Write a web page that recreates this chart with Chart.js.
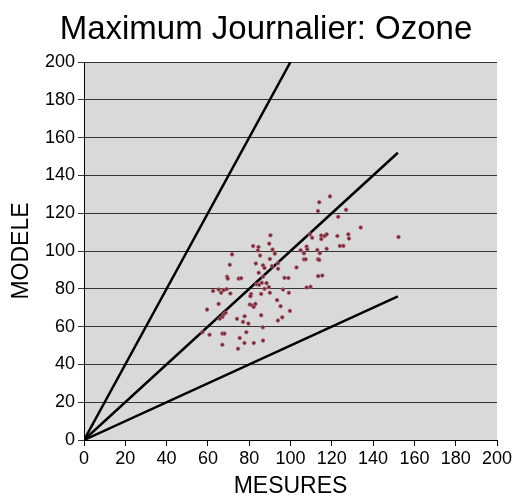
<!DOCTYPE html>
<html>
<head>
<meta charset="utf-8">
<script src="https://cdn.jsdelivr.net/npm/chart.js@4"></script>
<style>
html,body{margin:0;padding:0;background:#fff;}
#wrap{width:516px;height:500px;}
</style>
</head>
<body>
<div id="wrap"><canvas id="c" width="516" height="500"></canvas></div>
<script>
// Measured (MESURES) values
const mesures = [119.1,113.9,113.3,126.9,123.1,134.0,152.3,90.3,89.7,81.9,84.5,91.3,84.2,71.7,92.4,85.3,90.0,70.6,83.2,86.7,87.4,91.0,94.0,93.9,84.6,69.3,69.6,74.9,76.1,86.7,97.1,99.0,102.9,109.4,107.8,104.9,108.1,106.5,113.0,114.2,117.5,114.9,116.5,117.5,114.9,110.5,122.7,128.0,128.3,123.9,125.6,106.5,107.3,113.3,113.9,113.4,115.4,107.8,109.7,62.5,65.2,66.4,67.6,69.0,70.9,65.2,59.6,67.6,68.6,65.7,67.0,80.9,80.6,85.8,87.4,90.0,83.5,84.8,86.1,88.4,89.5,96.4,99.2,80.3,81.6,83.0,82.2,93.5,95.2,99.7,85.8,77.8,74.1,77.0,79.6,96.0,93.9,86.6,78.6,75.4,67.0,68.0,60.8,57.3,77.7,82.2,86.7,67.0,74.6];
// Model (MODELE) values
const modele = [128.9,125.8,121.2,121.8,118.1,112.4,107.4,108.3,103.9,102.6,102.1,100.8,100.3,98.2,98.6,97.6,95.8,92.7,93.4,92.4,91.0,92.0,90.6,93.5,88.5,86.4,85.4,85.4,85.6,86.4,85.8,85.7,91.3,108.8,102.3,100.4,100.9,98.8,100.5,98.8,101.2,108.2,107.9,108.8,106.3,107.0,107.9,108.8,106.6,102.7,102.7,95.6,95.6,95.6,95.3,86.7,87.0,80.7,81.1,78.8,79.6,77.9,79.3,79.8,77.5,72.0,69.0,66.4,67.3,64.2,65.1,77.2,76.1,77.3,80.0,77.9,82.4,82.1,83.2,83.0,80.9,79.6,77.9,71.7,71.1,72.0,70.4,74.0,70.8,68.3,66.0,65.5,64.1,62.5,61.6,64.9,63.2,59.6,57.0,54.0,56.3,56.3,55.7,57.0,51.3,51.3,52.6,50.4,48.3];
// Reference lines: slope 2, 1, 0.5
const line2End = [100, 200];
const line1End = [152, 152];
const lineHalfEnd = [152, 76];
const xTicks = [0,20,40,60,80,100,120,140,160,180,200];
const yTicks = [0,20,40,60,80,100,120,140,160,180,200];
const titleText = 'Maximum Journalier: Ozone';

const points = mesures.map((m, i) => ({x: m, y: modele[i]}));
const FONT = "'Liberation Sans', Arial, sans-serif";

const bgPlugin = {
  id: 'plotBg',
  beforeDraw(chart) {
    const {ctx, chartArea: a} = chart;
    ctx.save();
    ctx.fillStyle = '#d9d9d9';
    ctx.fillRect(a.left, a.top, a.right - a.left, a.bottom - a.top);
    ctx.restore();
  },
  afterDraw(chart) {
    const ctx = chart.ctx;
    ctx.save();
    ctx.fillStyle = '#000';
    ctx.font = "33px " + FONT;
    ctx.textAlign = 'center';
    ctx.textBaseline = 'alphabetic';
    ctx.fillText(titleText, 266, 39);
    ctx.restore();
  }
};

const lineDs = (end) => ({
  type: 'line',
  data: [{x: 0, y: 0}, {x: end[0], y: end[1]}],
  borderColor: '#000',
  borderWidth: 2.5,
  pointRadius: 0,
  fill: false,
  order: 1
});

new Chart(document.getElementById('c'), {
  type: 'scatter',
  data: {
    datasets: [
      lineDs(line2End),
      lineDs(line1End),
      lineDs(lineHalfEnd),
      {
        data: points,
        backgroundColor: '#6a2633',
        borderColor: 'rgba(180,100,115,0.85)',
        borderWidth: 1,
        pointRadius: 1.8,
        order: 0
      }
    ]
  },
  options: {
    responsive: false,
    animation: false,
    layout: {padding: {left: 0, right: 19, top: 62, bottom: 0}},
    plugins: {
      legend: {display: false},
      tooltip: {enabled: false},
      title: {display: false}
    },
    scales: {
      x: {
        type: 'linear',
        min: 0, max: 200,
        afterBuildTicks: (s) => { s.ticks = xTicks.map(v => ({value: v})); },
        afterFit: (s) => { s.height = 60; },
        grid: {drawOnChartArea: false, drawTicks: true, tickLength: 6, color: '#000'},
        border: {color: '#000', width: 1},
        ticks: {color: '#000', font: {family: FONT, size: 18}, padding: 2, maxRotation: 0, autoSkip: false},
        title: {display: true, text: 'MESURES', color: '#000', font: {family: FONT, size: 23}, padding: {top: 3, bottom: 0}}
      },
      y: {
        type: 'linear',
        min: 0, max: 200,
        afterBuildTicks: (s) => { s.ticks = yTicks.map(v => ({value: v})); },
        afterFit: (s) => { s.width = 84; },
        grid: {drawOnChartArea: true, drawTicks: true, tickLength: 6, color: '#333', lineWidth: 1},
        border: {color: '#000', width: 1},
        ticks: {color: '#000', font: {family: FONT, size: 18}, padding: 3, autoSkip: false},
        title: {display: true, text: 'MODELE', color: '#000', font: {family: FONT, size: 23}, padding: {top: 8, bottom: 0}}
      }
    }
  },
  plugins: [bgPlugin]
});
</script>
</body>
</html>
